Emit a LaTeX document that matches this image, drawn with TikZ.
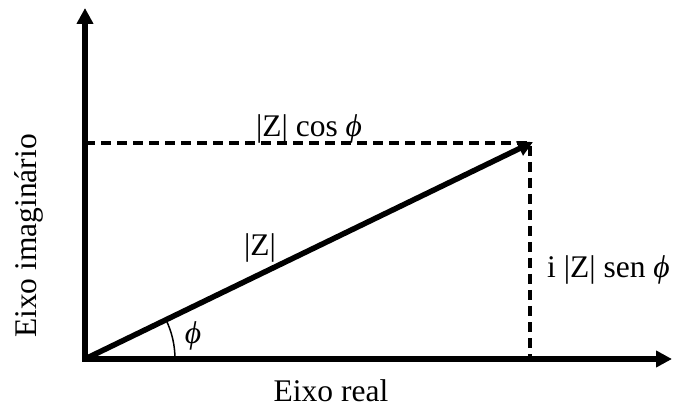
\documentclass[tikz,border=0pt]{standalone}
\usepackage{fontspec}
\setmainfont{Liberation Serif}
\usetikzlibrary{arrows.meta}
\newcommand{\ph}{\textit{ϕ}}
\begin{document}
\begin{tikzpicture}[x=1pt,y=-1pt,
  axis/.style={line width=5.5pt,-{Triangle[length=16pt,width=16pt]}},
  vec/.style={line width=5.5pt,-{Triangle[length=15pt,width=15pt]}},
  guide/.style={line width=3.2pt,dash pattern=on 10pt off 6pt},
  lbl/.style={inner sep=0pt,font=\fontsize{31.5}{36}\selectfont}]
\useasboundingbox (0,0) rectangle (673,409);
\coordinate (O) at (85,359);
\coordinate (Ob) at (85,361.7);
\coordinate (Ol) at (82.3,359);
\coordinate (Yt) at (85,8);
\coordinate (Xt) at (672,359);
\coordinate (P) at (533,142);
\coordinate (Pc) at (530,143);
\coordinate (Py) at (85,143);
\coordinate (Px) at (530,359);
\draw[guide] (Py) -- (Pc) -- (Px);
\draw[axis] (Ob) -- (Yt);
\draw[axis] (Ol) -- (Xt);
\draw[vec] (O) -- (P);
\draw[line width=1.5pt] ([shift={(0:90)}]O) arc[start angle=0,end angle=-26,radius=90];
\node[lbl,anchor=base] (xl) at (331,401) {Eixo real};
\node[lbl,anchor=base,rotate=90] (yl) at (37,236) {Eixo imaginário};
\node[lbl,anchor=base] (cl) at (309,137) {|Z| cos \ph};
\node[lbl,anchor=base] (zl) at (260,256) {|Z|};
\node[lbl,anchor=base west] (sl) at (547,277) {i |Z| sen \ph};
\node[lbl,anchor=base] (al) at (193,343) {\ph};
\end{tikzpicture}
\end{document}
